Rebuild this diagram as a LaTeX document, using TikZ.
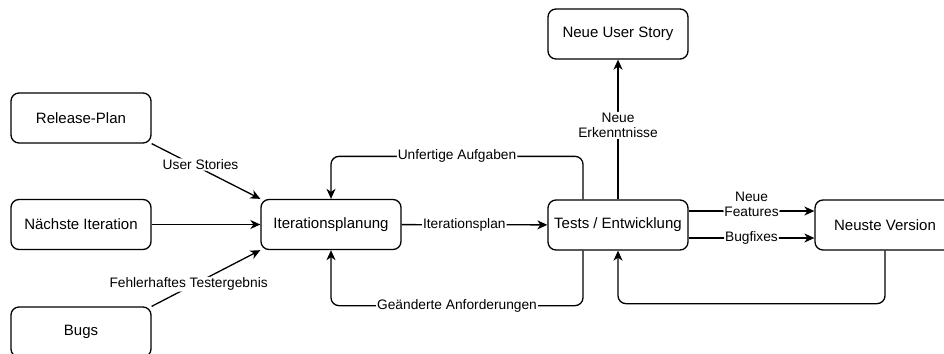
\documentclass[tikz,border=0pt]{standalone}
\usepackage{fontspec}
\setmainfont{Liberation Sans}
\usetikzlibrary{arrows.meta}
\begin{document}
\begin{tikzpicture}[x=1pt,y=-1pt,
  every node/.style={text=black},
  box/.style={draw=black, line width=1.3pt, rounded corners=8pt, fill=white,
    minimum width=140pt, minimum height=50pt, inner sep=0pt,
    font=\fontsize{15}{18}\selectfont},
  lbl/.style={fill=white, inner sep=1pt, align=center,
    font=\fontsize{13.75}{15.5}\selectfont},
  arr/.style={draw=black, line width=1.3pt, rounded corners=8pt,
    -{Stealth[length=10pt, width=9pt, inset=3pt]}}]
\useasboundingbox (0,0) rectangle (944,353);
\clip (0,0) rectangle (944,353);
\fill[white] (0,0) rectangle (944,353);

% boxes
\node[box] (rp)   at (81,118)    {Release-Plan};
\node[box] (ni)   at (81,224.5)  {Nächste Iteration};
\node[box] (bugs) at (81,332)    {Bugs};
\node[box] (ip)   at (331,224.5) {Iterationsplanung};
\node[box] (te)   at (618,225)   {Tests / Entwicklung};
\node[box] (nus)  at (618,34)    {Neue User Story};
\node[box] (nv)   at (885,225)   {Neuste Version};

% inputs of the planning step
\draw[arr] (rp.south east) -- node[lbl, pos=0.45, yshift=4pt] {User Stories} (ip.north west);
\draw[arr] (ni) -- (ip);
\draw[arr] (bugs.north east) -- node[lbl, pos=0.34, yshift=3pt] {Fehlerhaftes Testergebnis} (ip.south west);

% planning <-> development
\draw[arr] (ip) -- node[lbl, pos=0.43] {Iterationsplan} (te);
\draw[arr] ([xshift=-35pt]te.north) -- ++(0,-43) -| node[lbl, pos=0.25] {Unfertige Aufgaben} (ip.north);
\draw[arr] ([xshift=-35pt]te.south) -- ++(0,55) -| node[lbl, pos=0.25] {Geänderte Anforderungen} (ip.south);

% development outputs
\draw[arr] (te.north) -- node[lbl, pos=0.53] {Neue\\Erkenntnisse} (nus.south);
\draw[arr] ([yshift=14pt]te.east) -- node[lbl, midway, yshift=6.5pt] {Neue\\Features} ([yshift=14pt]nv.west);
\draw[arr] ([yshift=-13pt]te.east) -- node[lbl, midway] {Bugfixes} ([yshift=-13pt]nv.west);
\draw[arr] (nv.south) -- ++(0,53) -| (te.south);
\end{tikzpicture}
\end{document}
